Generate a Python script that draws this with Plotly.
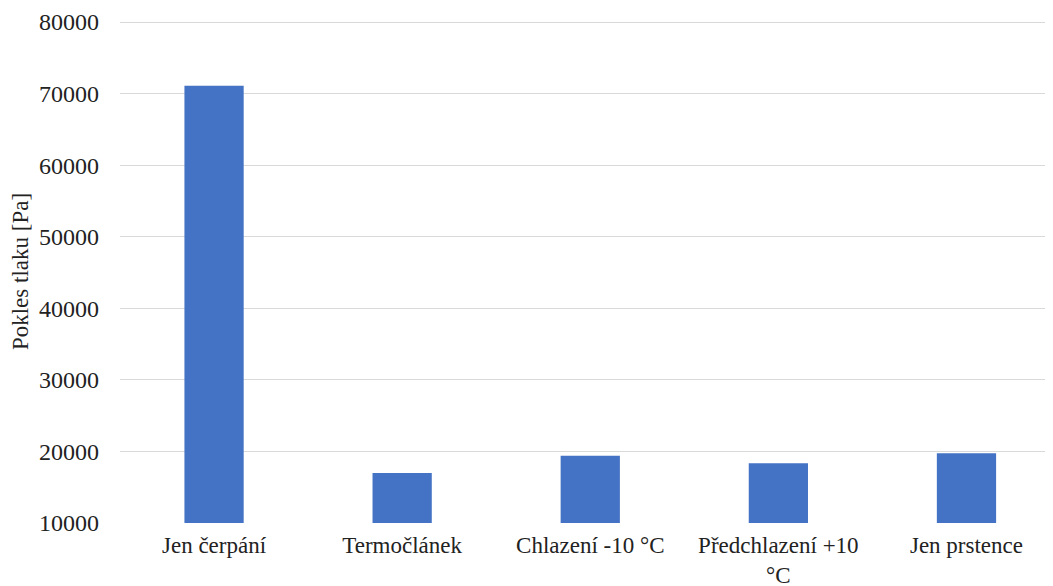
import plotly.graph_objects as go

categories = ["Jen čerpání", "Termočlánek", "Chlazení -10 °C", "Předchlazení +10<br>°C", "Jen prstence"]
values = [71100, 17000, 19400, 18350, 19750]
y_ticks = [10000, 20000, 30000, 40000, 50000, 60000, 70000, 80000]
y_title = "Pokles tlaku [Pa]"

fig = go.Figure(go.Bar(
    x=list(range(len(categories))),
    y=values,
    base=0,
    marker=dict(color="#4472C4", line=dict(width=0)),
    width=0.315,
))

fig.update_layout(
    width=1053, height=586,
    margin=dict(l=112, r=8, t=12, b=71, autoexpand=False),
    paper_bgcolor="white", plot_bgcolor="white",
    font=dict(family="Liberation Serif, Times New Roman, serif", size=23, color="#222222"),
    showlegend=False,
)
fig.update_xaxes(
    tickmode="array", tickvals=list(range(len(categories))), ticktext=categories,
    range=[-0.5, 4.46], showgrid=False, zeroline=False, showline=False,
    ticks="", ticklabelstandoff=6, tickfont=dict(size=23),
)
fig.update_yaxes(
    range=[10000, 80280], tickvals=y_ticks, tickformat="d",
    showgrid=True, gridcolor="#d9d9d9", gridwidth=1, zeroline=False, showline=False,
    ticks="", ticklabelstandoff=20, tickfont=dict(size=24),
    title=dict(text=y_title, font=dict(size=23), standoff=6),
)

fig.write_html("out.html")
